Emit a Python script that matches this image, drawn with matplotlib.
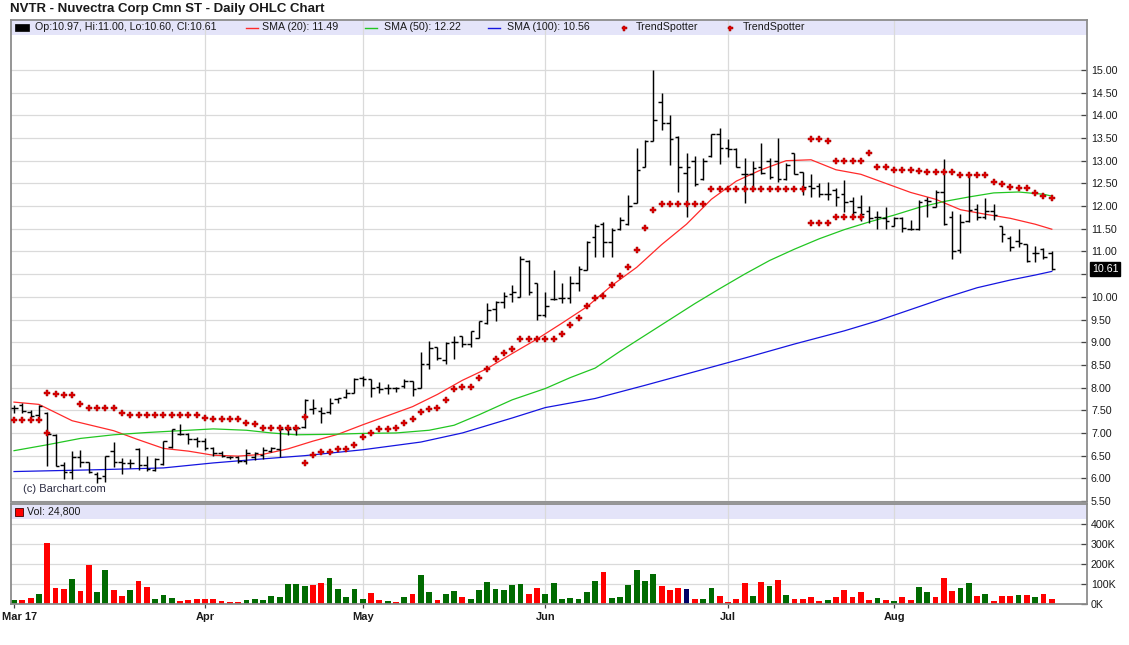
import matplotlib
matplotlib.use('Agg')
import matplotlib.pyplot as plt
import matplotlib.transforms as mtransforms
from matplotlib.patches import Rectangle
from matplotlib.lines import Line2D
import numpy as np

plt.rcParams['font.family'] = ['Liberation Sans', 'DejaVu Sans']

# ---------------- data ----------------
title = "NVTR - Nuvectra Corp Cmn ST - Daily OHLC Chart"
month_labels = ["Mar 17", "Apr", "May", "Jun", "Jul", "Aug"]
month_pos = [0, 23, 42, 64, 86, 106]

opens = [7.55,7.62,7.46,7.40,7.45,6.95,6.30,6.15,6.47,6.35,
         6.10,6.05,6.60,6.35,6.34,6.65,6.29,6.19,6.32,6.70,
         6.97,6.97,6.86,6.83,6.67,6.55,6.48,6.46,6.38,6.48,
         6.52,6.61,6.65,7.08,7.08,7.13,7.52,7.48,7.46,7.74,
         7.80,7.89,8.22,8.20,8.02,7.98,7.99,8.04,8.15,8.00,
         8.51,8.90,8.60,9.00,9.14,8.96,9.10,9.43,9.73,9.89,
         10.06,10.00,10.78,10.30,9.60,9.95,9.98,9.98,10.30,10.60,
         11.31,11.60,11.20,11.50,11.60,12.06,12.87,13.43,14.30,13.82,
         13.53,12.72,13.00,12.60,13.10,13.59,13.27,13.25,12.70,12.70,
         12.85,13.00,13.00,12.60,13.18,12.74,12.45,12.45,12.26,12.35,
         12.26,12.12,11.97,11.90,11.76,11.74,11.57,11.74,11.50,11.50,
         12.13,11.98,12.30,11.76,11.03,11.68,11.94,11.76,11.90,11.57,
         11.30,11.24,11.17,10.97,11.05,10.97]
highs = [7.62,7.66,7.50,7.62,7.47,6.97,6.36,6.60,6.62,6.36,
         6.15,6.50,6.80,6.45,6.42,6.66,6.49,6.45,6.82,7.08,
         7.19,7.00,6.92,6.88,6.70,6.60,6.50,6.50,6.65,6.58,
         6.70,6.70,7.15,7.12,7.14,7.74,7.74,7.57,7.78,7.78,
         7.96,8.22,8.26,8.20,8.12,8.09,8.02,8.20,8.15,8.79,
         9.03,8.90,9.00,9.14,9.14,9.25,9.46,9.87,9.91,10.10,
         10.27,10.90,10.81,10.30,10.10,10.60,10.30,10.45,10.67,11.24,
         11.60,11.64,11.52,11.77,12.24,13.27,13.46,15.00,14.49,14.00,
         13.54,13.16,13.10,13.05,13.59,13.71,13.47,13.27,13.05,13.00,
         13.40,13.05,13.50,12.95,13.18,12.76,12.70,12.50,12.53,12.40,
         12.57,12.20,12.24,12.00,11.90,11.97,11.76,11.76,11.70,12.13,
         12.20,12.35,13.03,11.90,11.83,12.69,12.05,12.17,12.04,11.57,
         11.35,11.50,11.17,11.13,11.07,11.00]
lows = [7.45,7.45,7.35,7.36,6.27,6.27,5.99,5.98,6.25,6.12,
        5.90,5.93,6.25,6.10,6.22,6.19,6.16,6.16,6.30,6.67,
        6.95,6.75,6.70,6.63,6.49,6.47,6.43,6.34,6.32,6.40,
        6.43,6.58,6.47,6.95,6.95,7.12,7.41,7.23,7.41,7.65,
        7.76,7.89,8.04,7.80,7.87,7.85,7.90,7.98,7.82,8.00,
        8.40,8.60,8.53,8.62,8.90,8.90,9.10,9.40,9.47,9.76,
        9.89,9.99,10.05,9.50,9.55,9.93,9.86,9.86,10.13,10.60,
        10.87,10.87,10.87,11.48,11.58,12.06,12.85,13.43,13.68,12.90,
        12.30,11.75,12.45,12.58,13.08,12.93,13.08,12.85,12.07,12.37,
        12.70,12.60,12.52,12.58,12.70,12.24,12.20,12.20,12.13,12.00,
        11.87,11.76,11.68,11.62,11.50,11.50,11.55,11.43,11.48,11.48,
        11.76,11.98,11.58,10.83,10.96,11.65,11.70,11.72,11.70,11.20,
        11.00,11.10,10.76,10.76,10.83,10.60]
closes = [7.55,7.48,7.38,7.60,6.98,6.28,6.15,6.47,6.35,6.15,
          6.00,6.50,6.35,6.33,6.34,6.29,6.20,6.43,6.82,7.08,
          6.97,6.86,6.83,6.67,6.55,6.50,6.46,6.38,6.55,6.55,
          6.62,6.67,7.08,7.08,7.11,7.73,7.55,7.45,7.67,7.76,
          7.89,8.20,8.18,8.00,7.96,7.98,7.98,8.15,7.96,8.51,
          8.88,8.66,8.99,9.00,8.96,9.25,9.46,9.71,9.89,10.02,
          10.10,10.83,10.10,9.60,9.80,9.96,9.98,10.30,10.61,11.20,
          11.57,11.20,11.48,11.70,12.00,12.80,13.43,13.90,13.82,13.48,
          12.85,12.87,12.48,13.00,13.59,13.27,13.25,12.87,12.70,12.83,
          12.72,12.63,12.60,12.90,12.70,12.43,12.40,12.26,12.26,12.19,
          12.09,11.87,11.82,11.74,11.76,11.68,11.74,11.52,11.50,12.09,
          12.11,12.30,11.60,11.02,11.65,11.92,11.76,11.90,11.80,11.39,
          11.10,11.18,10.78,10.97,10.87,10.61]

# volume in thousands, and bar colour code (g = up, r = down, n = navy)
volume_k = [20,20,30,50,305,80,75,125,65,195,
            60,170,70,40,70,115,85,25,45,30,
            15,20,25,25,25,15,10,10,20,25,
            20,40,35,100,100,90,95,105,130,75,
            35,75,25,55,20,15,10,35,50,145,
            60,20,50,65,35,25,70,110,75,70,
            95,100,50,80,50,105,25,30,25,60,
            115,160,30,35,95,170,115,150,90,70,
            80,75,25,25,80,40,10,25,105,40,
            110,90,120,45,25,25,35,15,20,35,
            70,35,60,20,30,20,15,35,20,85,
            60,35,130,65,80,105,40,50,15,40,
            40,45,45,35,50,24.8]
volume_dir = list("grrgrrrgrr" "ggrrgrrggg" "rrrrrrrrgg" "ggggggrrgg"
                  "gggrrgrgrg" "grggrggggg" "ggrrgggggg" "grggggggrr"
                  "rnrggrrrrg" "rgrgrrrrgr" "rrrrgrgrrg" "grrrggrgrr"
                  "rgrgrr")

sma20_idx = [0,3,7,12,15,18,21,24,27,30,33,36,39,42,45,48,51,54,57,60,63,
             66,69,72,75,78,81,84,87,90,93,96,99,102,105,108,111,114,117,120,123,125]
sma20_val = [7.68,7.63,7.27,7.05,6.85,6.66,6.60,6.51,6.49,6.53,6.65,6.82,6.97,7.18,
             7.38,7.58,7.85,8.16,8.42,8.75,9.07,9.42,9.78,10.25,10.65,11.15,11.60,
             12.15,12.55,12.80,13.00,13.02,12.80,12.70,12.50,12.30,12.15,11.92,11.82,
             11.73,11.60,11.49]
sma50_idx = [0,4,8,12,16,20,24,28,31,34,38,42,46,50,53,56,60,64,67,70,
             73,76,79,82,85,88,91,94,97,100,103,106,109,112,115,118,121,124,125]
sma50_val = [6.61,6.74,6.88,6.96,7.01,7.05,7.09,7.06,7.00,6.96,6.97,6.99,7.00,7.06,
             7.17,7.40,7.73,7.98,8.22,8.43,8.80,9.15,9.50,9.85,10.18,10.50,10.80,
             11.05,11.28,11.48,11.65,11.80,11.97,12.10,12.20,12.29,12.31,12.26,12.22]
sma100_idx = [0,10,18,24,30,35,42,49,54,60,64,70,76,82,88,94,100,104,108,112,116,120,123,125]
sma100_val = [6.15,6.19,6.23,6.34,6.43,6.50,6.63,6.80,7.00,7.33,7.56,7.76,8.05,8.35,
              8.65,8.96,9.25,9.47,9.72,9.97,10.20,10.37,10.48,10.56]

ts1_idx = [0, 1, 2, 3, 4] + list(range(35, 103))
ts1_val = [7.28,7.28,7.28,7.28,7.00,
           6.33,6.51,6.59,6.59,6.65,6.65,6.74,6.92,6.99,7.08,
           7.08,7.10,7.23,7.30,7.47,7.52,7.56,7.73,7.96,8.02,
           8.02,8.21,8.42,8.63,8.77,8.86,9.08,9.08,9.08,9.08,
           9.08,9.18,9.38,9.54,9.79,9.97,10.01,10.26,10.45,10.65,
           11.03,11.52,11.92,12.04,12.04,12.04,12.04,12.04,12.04,12.37,
           12.37,12.37,12.37,12.37,12.37,12.37,12.37,12.37,12.37,12.37,12.37,
           11.62,11.62,11.62,11.77,11.77,11.77,11.77]
ts2_idx = list(range(4, 36)) + list(range(96, 126))
ts2_val = [7.87,7.85,7.83,7.83,7.63,7.56,7.56,7.56,7.56,7.43,
           7.39,7.39,7.39,7.39,7.39,7.39,7.39,7.39,7.39,
           7.32,7.30,7.30,7.30,7.30,7.23,7.19,7.12,7.12,7.12,7.12,7.12,7.35,
           13.47,13.47,13.43,13.00,13.00,13.00,13.00,13.17,12.86,12.86,
           12.80,12.80,12.80,12.78,12.76,12.74,12.74,12.74,12.69,12.69,
           12.69,12.69,12.54,12.48,12.43,12.40,12.40,12.28,12.23,12.17]

price_ticks = [5.5 + 0.5 * k for k in range(20)]
vol_ticks_k = [0, 100, 200, 300, 400]

# ---------------- layout ----------------
W, H = 1129, 645
fig = plt.figure(figsize=(W / 100, H / 100), dpi=100)
fig.patch.set_facecolor('white')


def px_rect(l, t, r, b):
    return [l / W, 1 - b / H, (r - l) / W, (b - t) / H]


ax = fig.add_axes(px_rect(10.7, 20, 1087.5, 501.5))
axv = fig.add_axes(px_rect(10.7, 504, 1087.5, 604))

GRID = '#DADADA'
SPINE = '#8C8C8C'
TXT = '#1A1A1A'
BAND = '#E4E4F9'
TS_FILL = '#E00000'
TS_EDGE = '#A00000'

n = min(len(opens), len(highs), len(lows), len(closes))
x = np.arange(n)
xlim = (-0.4, 129.3)

for a in (ax, axv):
    a.set_xlim(*xlim)
    for s in a.spines.values():
        s.set_color(SPINE)
        s.set_linewidth(1.3)
    a.set_axisbelow(True)
    for p in month_pos[1:]:
        a.axvline(p, color=GRID, lw=0.9, zorder=0.6)

# ---- price panel ----
ax.set_ylim(5.49, 16.1)
ax.add_patch(Rectangle((0, (501.5 - 35) / 481.5), 1, 1 - (501.5 - 35) / 481.5,
                       transform=ax.transAxes, fc=BAND, ec='none', zorder=0.2))
ax.set_yticks(price_ticks)
ax.set_yticklabels(['' if abs(v - 10.5) < 1e-6 else f"{v:.2f}" for v in price_ticks])
ax.yaxis.tick_right()
ax.tick_params(axis='y', direction='in', length=4, width=0.9, pad=2.5,
               labelsize=7.7, colors='#444444', labelcolor=TXT)
ax.set_xticks([])
ax.grid(axis='y', color=GRID, lw=0.9)

o = np.array(opens[:n]); hi = np.array(highs[:n]); lo = np.array(lows[:n]); c = np.array(closes[:n])
ax.vlines(x, lo, hi, color='black', lw=1.05, zorder=3)
ax.hlines(o, x - 0.42, x, color='black', lw=1.05, zorder=3)
ax.hlines(c, x, x + 0.42, color='black', lw=1.05, zorder=3)

ax.plot(sma20_idx, sma20_val, color='#FF2A2A', lw=0.9, zorder=2.5)
ax.plot(sma50_idx, sma50_val, color='#22C622', lw=0.9, zorder=2.5)
ax.plot(sma100_idx, sma100_val, color='#1515E0', lw=0.9, zorder=2.5)

mk = dict(ls='none', marker='P', ms=3.9, mfc=TS_FILL, mec=TS_EDGE, mew=0.35, zorder=4)
ax.plot(ts1_idx, ts1_val, **mk)
ax.plot(ts2_idx, ts2_val, **mk)

ax.text(12.3 / 1076.8, (501.5 - 488.5) / 481.5, "(c) Barchart.com", transform=ax.transAxes,
        fontsize=8, color='#2E2E44', va='center', ha='left', zorder=5)

# last price box
bt = mtransforms.blended_transform_factory(ax.transAxes, ax.transData)
ax.text(1.0 + 4.5 / 1076.8, c[-1], f"{c[-1]:.2f}", transform=bt, ha='left', va='center',
        fontsize=7.7, color='white', clip_on=False, zorder=10,
        bbox=dict(boxstyle='square,pad=0.18', fc='black', ec='black'))

# legend row (price)
fig.text(10 / W, 1 - 9 / H, title, fontsize=9.5, fontweight='bold', color=TXT,
         ha='left', va='center')
ly = 1 - 27.5 / H
fig.add_artist(Rectangle((15 / W, 1 - 31 / H), 14 / W, 7 / H, transform=fig.transFigure,
                         fc='black', ec='black', lw=0.5))
fig.text(35 / W, ly, f"Op:{o[-1]:.2f}, Hi:{hi[-1]:.2f}, Lo:{lo[-1]:.2f}, Cl:{c[-1]:.2f}",
         fontsize=7.7, color=TXT, ha='left', va='center')
leg_items = [(246, '#FF2A2A', f"SMA (20): {sma20_val[-1]:.2f}", 262),
             (365, '#22C622', f"SMA (50): {sma50_val[-1]:.2f}", 384),
             (488, '#1515E0', f"SMA (100): {sma100_val[-1]:.2f}", 507)]
for x0, col, lab, tx in leg_items:
    fig.add_artist(Line2D([x0 / W, (x0 + 12) / W], [ly, ly], transform=fig.transFigure,
                          color=col, lw=1.0))
    fig.text(tx / W, ly, lab, fontsize=7.7, color=TXT, ha='left', va='center')
for dx, tx in [(623.5, 636), (730, 743)]:
    fig.add_artist(Line2D([dx / W], [ly], transform=fig.transFigure, ls='none',
                          marker='P', ms=3.6, mfc=TS_FILL, mec=TS_EDGE, mew=0.35))
    fig.text(tx / W, ly, "TrendSpotter", fontsize=7.7, color=TXT, ha='left', va='center')

# ---- volume panel ----
vol = np.array(volume_k[:n]) * 1000
cmap = {'g': '#006A00', 'r': '#FF0000', 'n': '#000066'}
axv.bar(x, vol, width=0.7, color=[cmap[d] for d in volume_dir[:n]], zorder=2)
axv.set_ylim(0, 500000)
axv.add_patch(Rectangle((0, 0.85), 1, 0.15, transform=axv.transAxes, fc=BAND,
                        ec='none', zorder=0.2))
axv.set_yticks([v * 1000 for v in vol_ticks_k])
axv.set_yticklabels([f"{v}K" for v in vol_ticks_k])
axv.yaxis.tick_right()
axv.tick_params(axis='y', direction='in', length=4, width=0.9, pad=2.5,
                labelsize=7.7, colors='#444444', labelcolor=TXT)
axv.grid(axis='y', color=GRID, lw=0.9)
axv.set_xticks(month_pos)
axv.set_xticklabels(month_labels, fontweight='bold')
axv.tick_params(axis='x', direction='out', length=3, width=0.9, pad=2.5,
                labelsize=7.9, colors='#444444', labelcolor=TXT)
# first month label sits at the left edge: anchor it so it stays inside the picture
first_lab = axv.get_xticklabels()[0]
first_lab.set_horizontalalignment('left')
first_lab.set_transform(first_lab.get_transform() +
                        mtransforms.ScaledTranslation(-12 / 100, 0, fig.dpi_scale_trans))

fig.add_artist(Rectangle((15 / W, 1 - 516 / H), 8 / W, 8 / H, transform=fig.transFigure,
                         fc='#FF0000', ec='#400000', lw=0.6))
fig.text(27.3 / W, 1 - 512 / H, f"Vol: {int(round(vol[-1])):,}", fontsize=7.7, color=TXT,
         ha='left', va='center')

fig.savefig('out.png', dpi=100, facecolor='white')
